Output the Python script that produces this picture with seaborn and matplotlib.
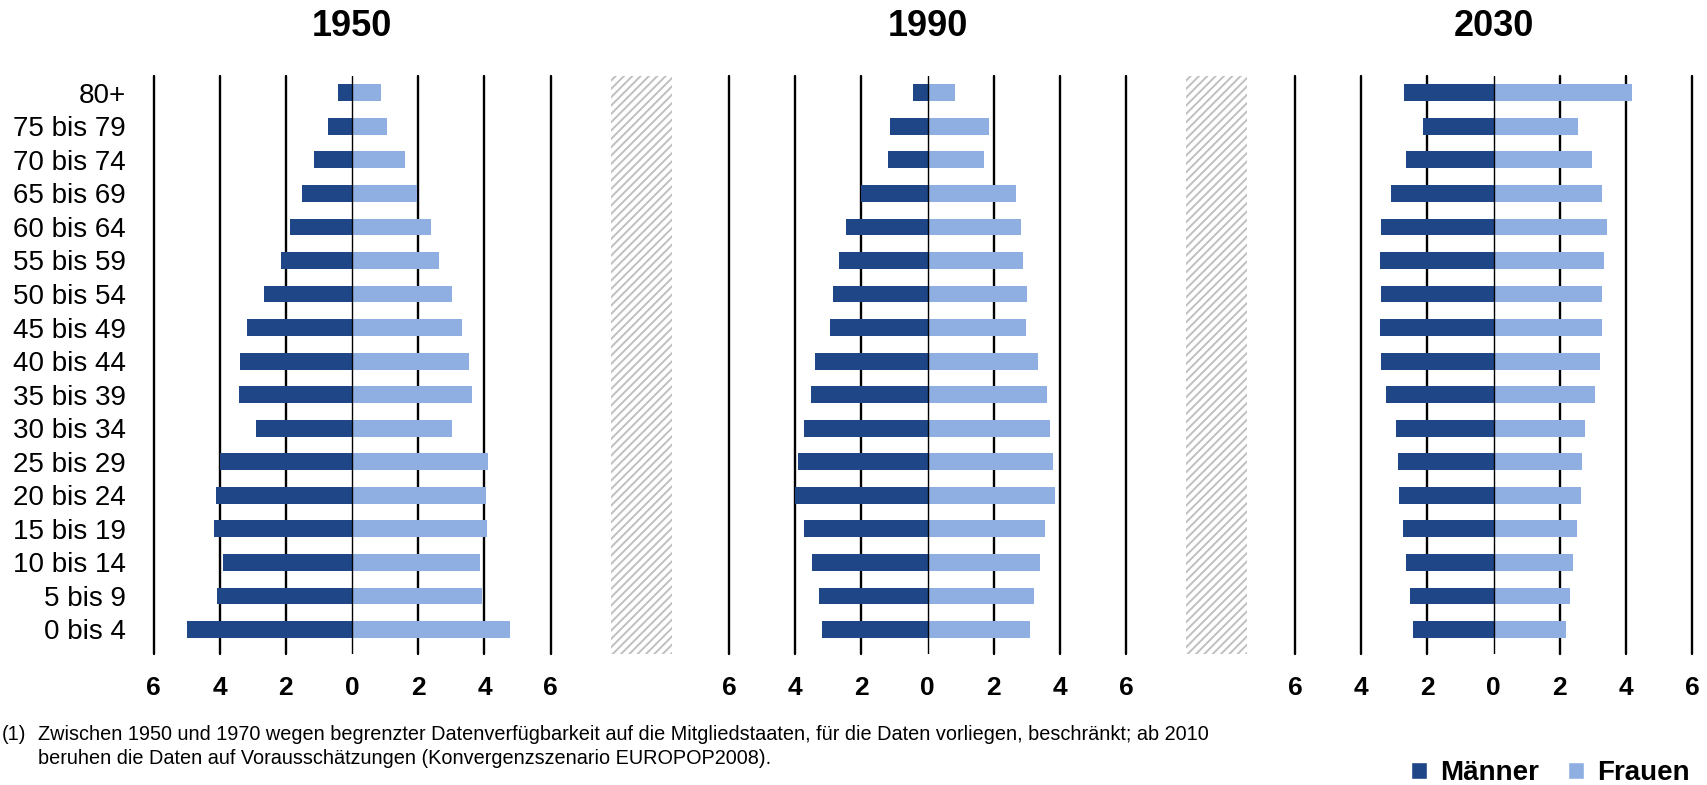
import pandas as pd
import matplotlib
matplotlib.use('Agg')
import matplotlib.pyplot as plt
from matplotlib.patches import Rectangle, Patch
import seaborn as sns

# Age groups (top to bottom) and shares in % of total population
age_groups = ['80+', '75 bis 79', '70 bis 74', '65 bis 69', '60 bis 64', '55 bis 59',
              '50 bis 54', '45 bis 49', '40 bis 44', '35 bis 39', '30 bis 34',
              '25 bis 29', '20 bis 24', '15 bis 19', '10 bis 14', '5 bis 9', '0 bis 4']

men_1950 = [0.42, 0.72, 1.14, 1.50, 1.87, 2.14, 2.65, 3.17, 3.38, 3.43, 2.89,
            3.99, 4.10, 4.16, 3.90, 4.07, 4.98]
women_1950 = [0.88, 1.06, 1.61, 1.97, 2.39, 2.64, 3.03, 3.33, 3.54, 3.63, 3.03,
              4.12, 4.06, 4.08, 3.87, 3.94, 4.77]

men_1990 = [0.43, 1.12, 1.18, 2.02, 2.45, 2.69, 2.87, 2.94, 3.39, 3.53, 3.72,
            3.90, 4.01, 3.72, 3.48, 3.29, 3.18]
women_1990 = [0.84, 1.87, 1.72, 2.68, 2.81, 2.87, 3.02, 2.99, 3.35, 3.62, 3.69,
              3.80, 3.84, 3.56, 3.41, 3.23, 3.11]

men_2030 = [2.71, 2.13, 2.65, 3.09, 3.40, 3.43, 3.40, 3.43, 3.40, 3.25, 2.95,
            2.89, 2.86, 2.74, 2.65, 2.52, 2.43]
women_2030 = [4.18, 2.55, 2.97, 3.28, 3.43, 3.34, 3.28, 3.28, 3.22, 3.06, 2.77,
              2.68, 2.65, 2.52, 2.40, 2.31, 2.19]

years = ['1950', '1990', '2030']
men = [men_1950, men_1990, men_2030]
women = [women_1950, women_1990, women_2030]

tick_values = [-6, -4, -2, 0, 2, 4, 6]
tick_labels = ['6', '4', '2', '0', '2', '4', '6']

colors = {'Männer': '#1F4788', 'Frauen': '#8FAFE3'}

sns.set_style('white')
plt.rcParams['font.family'] = ['Liberation Sans', 'DejaVu Sans']
plt.rcParams['text.color'] = 'black'
plt.rcParams['xtick.color'] = 'black'
plt.rcParams['ytick.color'] = 'black'
plt.rcParams['hatch.linewidth'] = 1.4
plt.rcParams['hatch.color'] = '#c0c0c0'

fig = plt.figure(figsize=(17.08, 7.85), dpi=100)

lefts = [0.0899, 0.4268, 0.7582]
bottom, width, height = 0.1669, 0.2325, 0.7363

for i, year in enumerate(years):
    ax = fig.add_axes([lefts[i], bottom, width, height])
    df = pd.DataFrame({
        'age': age_groups * 2,
        'value': [-v for v in men[i]] + women[i],
        'sex': ['Männer'] * len(age_groups) + ['Frauen'] * len(age_groups),
    })
    # grid lines behind bars
    for t in tick_values:
        if t != 0:
            ax.axvline(t, color='black', lw=1.7, zorder=0, clip_on=False)
    sns.barplot(data=df, x='value', y='age', hue='sex', palette=colors, dodge=False,
                width=0.5, orient='h', legend=False, saturation=1, linewidth=0, ax=ax)
    ax.axvline(0, color='black', lw=1.0, zorder=5)
    ax.set_xlim(-6, 6)
    ax.set_ylim(16.73, -0.5)
    ax.set_xticks(tick_values)
    ax.set_xticklabels(tick_labels, fontsize=19, fontweight='bold')
    ax.tick_params(axis='x', length=0, pad=16)
    ax.set_xlabel('')
    ax.set_ylabel('')
    if i == 0:
        ax.tick_params(axis='y', length=0, pad=20, labelsize=20)
    else:
        ax.tick_params(axis='y', length=0, labelleft=False)
    for s in ax.spines.values():
        s.set_visible(False)
    ax.patch.set_alpha(0)
    fig.text(lefts[i] + width / 2, 1 - 26 / 785, year, ha='center', va='center',
             fontsize=26, fontweight='bold')

# hatched separators between panels
for x0, x1 in [(611, 672), (1186, 1247)]:
    fig.patches.append(Rectangle((x0 / 1708, bottom), (x1 - x0) / 1708, height,
                                 transform=fig.transFigure, facecolor='white',
                                 edgecolor='#c0c0c0', hatch='////', linewidth=0))

# footnote
fig.text(2 / 1708, 1 - 735 / 785, '(1)', ha='left', va='center', fontsize=14.3)
fig.text(38 / 1708, 1 - 735 / 785,
         'Zwischen 1950 und 1970 wegen begrenzter Datenverfügbarkeit auf die Mitgliedstaaten, '
         'für die Daten vorliegen, beschränkt; ab 2010',
         ha='left', va='center', fontsize=14.3)
fig.text(38 / 1708, 1 - 759 / 785,
         'beruhen die Daten auf Vorausschätzungen (Konvergenzszenario EUROPOP2008).',
         ha='left', va='center', fontsize=14.3)

# legend
handles = [Patch(facecolor=colors['Männer']), Patch(facecolor=colors['Frauen'])]
leg = fig.legend(handles, ['Männer', 'Frauen'], loc='center right',
                 bbox_to_anchor=(1690 / 1708, 1 - 773 / 785), ncol=2, frameon=False,
                 prop={'size': 20, 'weight': 'bold'}, handlelength=0.58, handleheight=0.58,
                 handletextpad=0.47, columnspacing=1.05, borderpad=0, borderaxespad=0)

fig.savefig('out.png', dpi=100)
